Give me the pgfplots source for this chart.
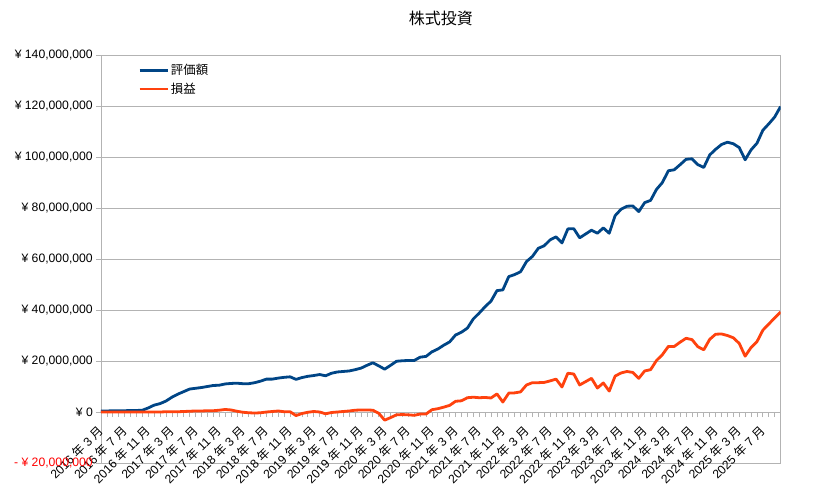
\documentclass[border=0pt]{standalone}
\usepackage{fontspec}
\setmainfont{Liberation Sans}
\newfontfamily\cjk{Noto Sans CJK JP}
\usepackage{pgfplots}
\pgfplotsset{compat=1.18}
\usepackage{pgfplotstable}
\definecolor{lobl}{HTML}{004586}
\definecolor{loor}{HTML}{FF420E}
\definecolor{grd}{HTML}{B3B3B3}
\newcommand{\ym}[2]{#1 {\cjk 年} #2 {\cjk 月}}

% 月ごと (2016/3 - 2025/10), 単位: 百万円
\pgfplotstableread{
i hyoka soneki
0 0.4 0.0
1 0.4 0.0
2 0.5 0.0
3 0.5 0.0
4 0.5 0.0
5 0.6 0.0
6 0.6 0.0
7 0.7 0.0
8 1.6 0.0
9 2.7 0.0
10 3.3 0.0
11 4.3 0.1
12 5.8 0.1
13 7.0 0.1
14 8.0 0.2
15 9.0 0.3
16 9.3 0.4
17 9.6 0.4
18 10.0 0.5
19 10.4 0.5
20 10.5 0.7
21 11.0 1.0
22 11.2 0.8
23 11.3 0.3
24 11.1 -0.1
25 11.1 -0.3
26 11.5 -0.4
27 12.1 -0.3
28 12.9 0.0
29 12.9 0.2
30 13.3 0.4
31 13.6 0.1
32 13.8 0.1
33 12.8 -1.4
34 13.5 -0.6
35 14.0 -0.1
36 14.3 0.2
37 14.7 0.0
38 14.2 -0.7
39 15.2 -0.2
40 15.7 0.0
41 15.9 0.2
42 16.1 0.4
43 16.6 0.7
44 17.2 0.8
45 18.3 0.8
46 19.3 0.7
47 18.1 -0.5
48 16.8 -3.2
49 18.3 -2.2
50 19.9 -1.1
51 20.1 -1.0
52 20.2 -1.1
53 20.2 -1.3
54 21.5 -0.8
55 21.8 -0.8
56 23.6 0.9
57 24.7 1.3
58 26.2 1.9
59 27.5 2.6
60 30.2 4.2
61 31.3 4.4
62 32.9 5.6
63 36.5 5.8
64 38.8 5.6
65 41.3 5.7
66 43.5 5.5
67 47.6 7.1
68 47.9 3.9
69 53.1 7.4
70 53.9 7.5
71 55.0 7.9
72 59.0 10.6
73 61.0 11.5
74 64.2 11.5
75 65.2 11.6
76 67.5 12.2
77 68.7 12.9
78 66.3 9.8
79 71.8 15.2
80 71.9 14.9
81 68.3 10.6
82 69.8 11.9
83 71.3 13.2
84 70.1 9.4
85 72.2 11.4
86 70.1 8.2
87 77.0 14.1
88 79.5 15.3
89 80.7 15.9
90 80.8 15.5
91 78.6 13.2
92 82.1 16.1
93 83.0 16.6
94 87.3 20.2
95 90.0 22.5
96 94.6 25.7
97 95.0 25.7
98 97.0 27.4
99 99.1 28.9
100 99.3 28.4
101 97.0 25.6
102 95.9 24.4
103 100.8 28.5
104 103.0 30.5
105 104.9 30.6
106 105.8 30.0
107 105.2 29.1
108 103.7 26.9
109 98.9 21.9
110 102.8 25.3
111 105.4 27.6
112 110.5 32.1
113 113.0 34.5
114 115.7 36.9
115 119.8 39.2
}\kabu

\begin{document}
\begin{tikzpicture}
\begin{axis}[name=ax,
  width=679.6pt, height=408pt, scale only axis,
  xmin=0, xmax=115, ymin=-20, ymax=140,
  axis x line=middle, axis y line=box,
  axis line style={draw=grd, line width=0.8pt, -},
  x axis line style={-}, y axis line style={-},
  ytick={-20,0,20,...,140}, ytick pos=left,
  yticklabels={{\color{red}- ¥ 20,000,000},{¥ 0},{¥ 20,000,000},{¥ 40,000,000},{¥ 60,000,000},{¥ 80,000,000},{¥ 100,000,000},{¥ 120,000,000},{¥ 140,000,000}},
  yticklabel style={font=\fontsize{12.2}{14}\selectfont, anchor=east, inner sep=0pt, xshift=-3pt},
  ymajorgrids, grid style={draw=grd, line width=0.8pt},
  xtick={0,4,...,112}, minor xtick={0,1,...,115},
  xticklabels={\ym{2016}{3},\ym{2016}{7},\ym{2016}{11},\ym{2017}{3},\ym{2017}{7},\ym{2017}{11},\ym{2018}{3},\ym{2018}{7},\ym{2018}{11},\ym{2019}{3},\ym{2019}{7},\ym{2019}{11},\ym{2020}{3},\ym{2020}{7},\ym{2020}{11},\ym{2021}{3},\ym{2021}{7},\ym{2021}{11},\ym{2022}{3},\ym{2022}{7},\ym{2022}{11},\ym{2023}{3},\ym{2023}{7},\ym{2023}{11},\ym{2024}{3},\ym{2024}{7},\ym{2024}{11},\ym{2025}{3},\ym{2025}{7}},
  xticklabel style={font=\fontsize{12.2}{14}\selectfont, rotate=45, anchor=east, inner sep=0pt},
  xticklabel shift=11pt,
  hide obscured x ticks=false,
  tick style={draw=grd, line width=0.8pt},
  major tick length=5pt, minor tick length=5pt, tick align=outside,
  title={\cjk 株式投資},
  title style={font=\fontsize{16}{18}\selectfont, at={(0.5,1)}, anchor=center, yshift=30.5pt},
  legend style={at={(0.0544,1)}, anchor=north west, draw=none, fill=none,
    inner sep=0pt, yshift=-7pt, row sep=3pt, font=\fontsize{12.4}{14}\selectfont, cells={anchor=west}},
  legend image code/.code={\draw[#1] (0pt,0pt) -- (28pt,0pt);},
  every axis plot/.append style={line width=2.8pt, line join=round},
]
\addplot[lobl] table[x=i, y=hyoka] {\kabu};
\addlegendentry{\cjk 評価額}
\addplot[loor] table[x=i, y=soneki] {\kabu};
\addlegendentry{\cjk 損益}
\end{axis}
\pgfresetboundingbox
\path[use as bounding box] ([shift={(-101pt,-30pt)}]ax.south west) rectangle ([shift={(717pt,463pt)}]ax.south west);
\end{tikzpicture}
\end{document}
